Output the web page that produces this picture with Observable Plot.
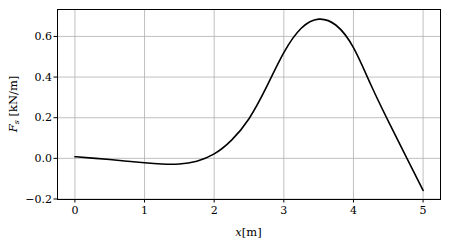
<!DOCTYPE html>
<html><head><meta charset="utf-8">
<script src="https://cdn.jsdelivr.net/npm/d3@7"></script>
<script src="https://cdn.jsdelivr.net/npm/@observablehq/plot@0.6"></script>
<style>body{margin:0;background:#fff}</style>
</head><body><div id="chart"></div>
<script>
const xs = [0,0.25,0.5,0.75,1.0,1.25,1.5,1.75,2.0,2.25,2.5,2.75,3.0,3.25,3.5,3.75,4.0,4.25,4.5,4.75,5.0];
const fs = [0.008,0.001,-0.006,-0.014,-0.022,-0.028,-0.028,-0.014,0.022,0.09,0.195,0.35,0.52,0.64,0.685,0.655,0.545,0.362,0.183,0.012,-0.158];
const xTicks = [0,1,2,3,4,5];
const yTicks = [-0.2,0,0.2,0.4,0.6];
const data = xs.map((x,i)=>({x, y: fs[i]}));
const font = "'DejaVu Serif', serif";
const fmtY = d => (d<0?"\u2212":"") + Math.abs(d).toFixed(1);
const chart = Plot.plot({
  width: 450, height: 241,
  marginLeft: 57, marginRight: 10, marginTop: 9, marginBottom: 42,
  style: {fontFamily: font, fontSize: "11px", background: "#fff", color: "#000"},
  x: {domain: [-0.25, 5.25]},
  y: {domain: [-0.2025, 0.7325]},
  marks: [
    Plot.gridX(xTicks, {stroke: "#b0b0b0", strokeOpacity: 1, strokeWidth: 0.8}),
    Plot.gridY(yTicks, {stroke: "#b0b0b0", strokeOpacity: 1, strokeWidth: 0.8}),
    Plot.line(data, {x: "x", y: "y", stroke: "#000", strokeWidth: 1.6, curve: "natural"}),
    Plot.frame({stroke: "#000", strokeWidth: 1}),
    Plot.axisX(xTicks, {tickSize: 3.5, tickPadding: 3, label: null, fontSize: 11, tickFormat: d => String(d)}),
    Plot.axisY(yTicks, {tickSize: 3.5, tickPadding: 2, label: null, fontSize: 11, tickFormat: fmtY})
  ]
});
document.getElementById("chart").appendChild(chart);
const svg = d3.select(chart);
const xl = svg.append("text").attr("x", 248.5).attr("y", 236).attr("text-anchor", "middle")
  .attr("font-family", font).attr("font-size", 11.5).attr("fill", "#000");
xl.append("tspan").attr("font-style", "italic").text("x");
xl.append("tspan").text("[m]");
const yl = svg.append("text").attr("transform", "translate(16.5,104) rotate(-90)").attr("text-anchor", "middle")
  .attr("font-family", font).attr("font-size", 11.5).attr("fill", "#000");
yl.append("tspan").attr("font-style", "italic").text("F");
yl.append("tspan").attr("font-style", "italic").attr("font-size", 8).attr("dy", 2.5).text("s");
yl.append("tspan").attr("dy", -2.5).text(" [kN/m]");
</script></body></html>
